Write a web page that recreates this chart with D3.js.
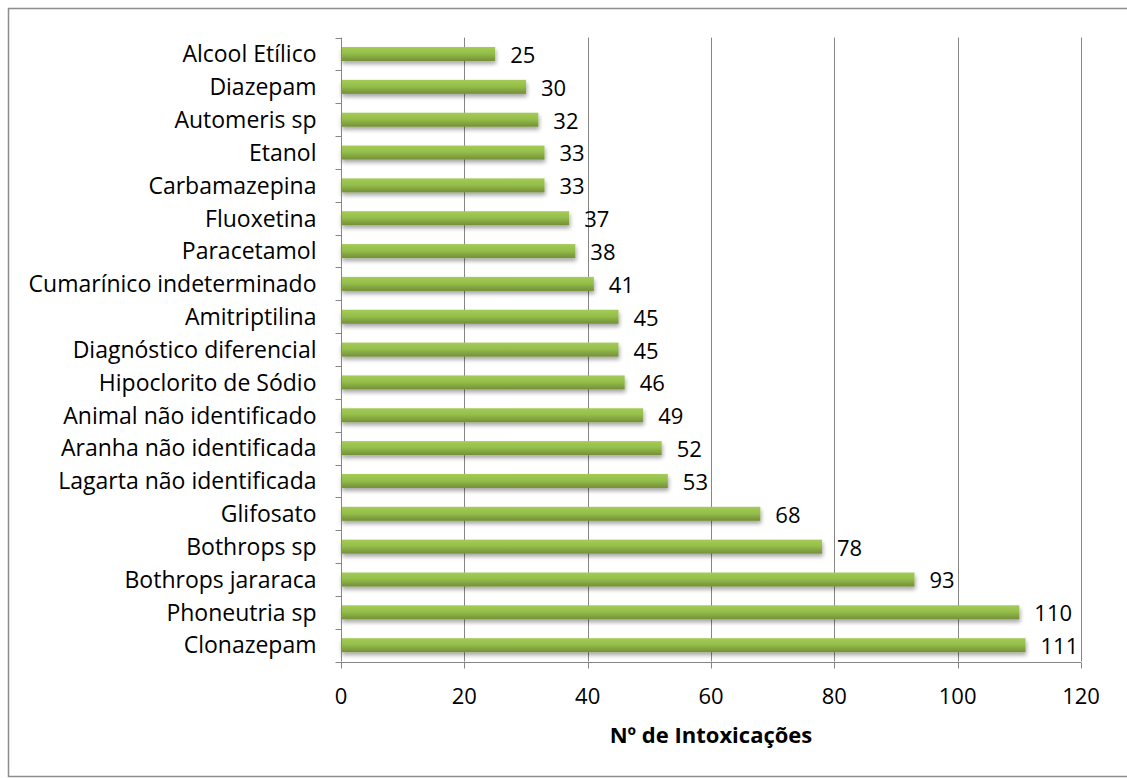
<!DOCTYPE html>
<html><head><meta charset="utf-8">
<script src="https://cdn.jsdelivr.net/npm/d3@7"></script>
<style>body{margin:0;background:#fff}svg{display:block}text{font-family:"Open Sans",sans-serif}</style>
</head><body><svg id="c" width="1127" height="778"></svg>
<script>
const categories = ["Alcool Etílico","Diazepam","Automeris sp","Etanol","Carbamazepina","Fluoxetina","Paracetamol","Cumarínico indeterminado","Amitriptilina","Diagnóstico diferencial","Hipoclorito de Sódio","Animal não identificado","Aranha não identificada","Lagarta não identificada","Glifosato","Bothrops sp","Bothrops jararaca","Phoneutria sp","Clonazepam"];
const values = [25,30,32,33,33,37,38,41,45,45,46,49,52,53,68,78,93,110,111];
const xTicks = [0,20,40,60,80,100,120];
const xTitle = "Nº de Intoxicações";

const svg = d3.select("#c");
const defs = svg.append("defs");
const g1 = defs.append("linearGradient").attr("id","bar").attr("x1",0).attr("y1",0).attr("x2",0).attr("y2",1);
g1.append("stop").attr("offset","0%").attr("stop-color","#a4cb55");
g1.append("stop").attr("offset","45%").attr("stop-color","#95bf4b");
g1.append("stop").attr("offset","100%").attr("stop-color","#738f37");
const f = defs.append("filter").attr("id","sh").attr("x","-5%").attr("y","-50%").attr("width","110%").attr("height","250%");
f.append("feGaussianBlur").attr("in","SourceAlpha").attr("stdDeviation",2.2);
f.append("feOffset").attr("dx",1).attr("dy",3).attr("result","b");
f.append("feComponentTransfer").append("feFuncA").attr("type","linear").attr("slope",0.35);
const m = f.append("feMerge"); m.append("feMergeNode"); m.append("feMergeNode").attr("in","SourceGraphic");

svg.append("rect").attr("x",8.5).attr("y",8.5).attr("width",1127).attr("height",768).attr("fill","#fff").attr("stroke","#8c8c8c").attr("stroke-width",1.5);

const L=341, R=1081, T=37.6, B=661.6;
const x = d3.scaleLinear().domain([0,120]).range([L,R]);
const y = d3.scaleBand().domain(categories).range([T,B]);

svg.append("g").selectAll("line").data(xTicks.slice(1)).join("line")
 .attr("x1",d=>Math.round(x(d))+0.5).attr("x2",d=>Math.round(x(d))+0.5).attr("y1",T).attr("y2",B)
 .attr("stroke","#868686").attr("stroke-width",1);

const bh = 14;
svg.append("g").selectAll("rect").data(categories).join("rect")
 .attr("x",x(0)).attr("y",(d)=>y(d)+y.bandwidth()/2-bh/2)
 .attr("width",(d,i)=>x(values[i])-x(0)).attr("height",bh)
 .attr("fill","url(#bar)").attr("filter","url(#sh)");

const ya = svg.append("g").attr("transform",`translate(${L+0.5},0)`);
ya.append("line").attr("y1",T).attr("y2",B).attr("stroke","#868686");
const bounds = categories.map(c=>y(c)).concat([B]);
ya.selectAll("line.t").data(bounds).join("line").attr("class","t")
 .attr("x1",-6).attr("x2",0).attr("y1",d=>Math.round(d)+0.5).attr("y2",d=>Math.round(d)+0.5).attr("stroke","#868686");
ya.selectAll("text").data(categories).join("text")
 .attr("x",-25).attr("y",d=>y(d)+y.bandwidth()/2).attr("dy","0.36em")
 .attr("text-anchor","end").attr("font-size",23).attr("fill","#000").text(d=>d);

const xa = svg.append("g").attr("transform",`translate(0,${Math.round(B)+0.5})`);
xa.append("line").attr("x1",L).attr("x2",R).attr("stroke","#868686");
xa.selectAll("line.t").data(xTicks).join("line").attr("class","t")
 .attr("x1",d=>Math.round(x(d))+0.5).attr("x2",d=>Math.round(x(d))+0.5).attr("y1",0).attr("y2",6).attr("stroke","#868686");
xa.selectAll("text").data(xTicks).join("text")
 .attr("x",d=>x(d)).attr("y",41).attr("text-anchor","middle").attr("font-size",22).text(d=>d);

svg.append("g").selectAll("text").data(categories).join("text")
 .attr("x",(d,i)=>x(values[i])+15).attr("y",d=>y(d)+y.bandwidth()/2+1).attr("dy","0.36em")
 .attr("font-size",22).text((d,i)=>values[i]);

svg.append("text").attr("x",(L+R)/2).attr("y",743).attr("text-anchor","middle")
 .attr("font-size",22).attr("font-weight","bold").text(xTitle);
</script></body></html>
